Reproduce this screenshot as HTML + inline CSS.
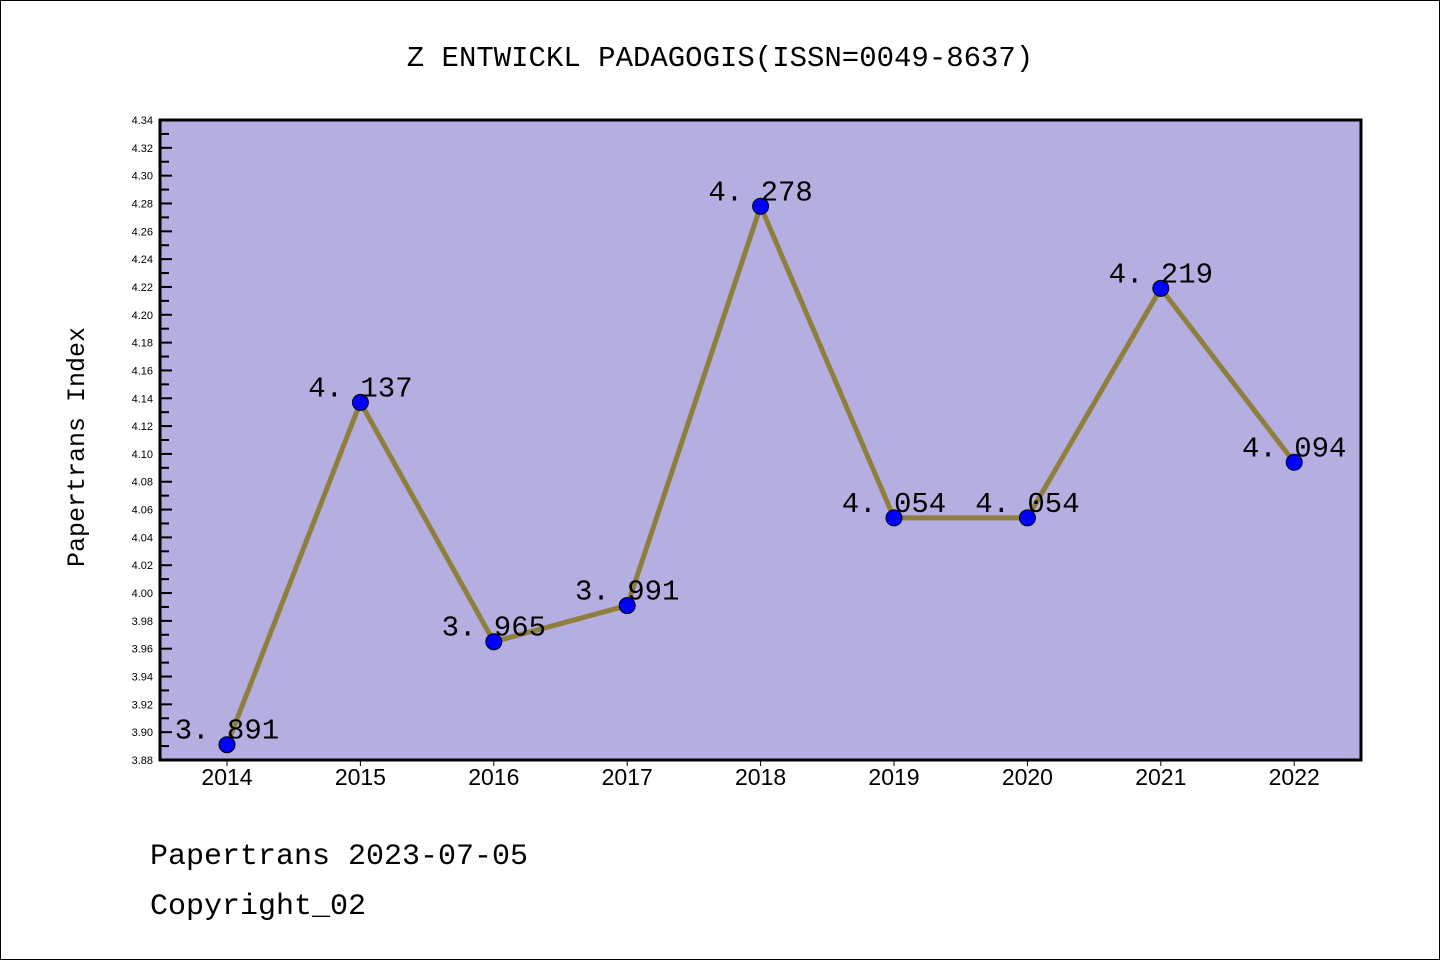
<!DOCTYPE html>
<html><head><meta charset="utf-8"><style>
body{margin:0;background:#fff;}
svg{display:block;font-family:"Liberation Mono","WenQuanYi Zen Hei",monospace;}
</style></head><body>
<svg id="chart" width="1440" height="960" xmlns="http://www.w3.org/2000/svg">
<rect x="0.5" y="0.5" width="1439" height="959" fill="#fff" stroke="#000"/>
<text x="720" y="66" text-anchor="middle" font-size="29">Z ENTWICKL PADAGOGIS(ISSN=0049-8637)</text>
<rect x="160" y="120" width="1201" height="640" fill="#b5aee1"/>
<g id="axes"></g>
<g id="series"></g>
<rect x="160" y="120" width="1201" height="640" fill="none" stroke="#000" stroke-width="3"/>
<text transform="translate(84,447) rotate(-90)" text-anchor="middle" font-size="25">Papertrans Index</text>
<text x="150" y="864" font-size="30">Papertrans 2023-07-05</text>
<text x="150" y="914" font-size="30">Copyright_02</text>
</svg>
<script>
const years=["2014","2015","2016","2017","2018","2019","2020","2021","2022"];
const values=[3.891,4.137,3.965,3.991,4.278,4.054,4.054,4.219,4.094];
const yTicks=["3.88","3.90","3.92","3.94","3.96","3.98","4.00","4.02","4.04","4.06","4.08","4.10","4.12","4.14","4.16","4.18","4.20","4.22","4.24","4.26","4.28","4.30","4.32","4.34"];
const NS="http://www.w3.org/2000/svg";
const yMin=3.88,yMax=4.34,plotTop=120,plotBot=760;
function yS(v){return plotBot-(v-yMin)/(yMax-yMin)*(plotBot-plotTop);}
function xS(i){return 227+i*133.4;}
function mk(t,a,p){const e=document.createElementNS(NS,t);for(const k in a)e.setAttribute(k,a[k]);p.appendChild(e);return e;}
const ax=document.getElementById('axes'),sr=document.getElementById('series');
yTicks.forEach(t=>{const v=parseFloat(t),yy=yS(v);
 const l=mk('line',{x1:160,x2:172,y1:yy,y2:yy,stroke:'#000','stroke-width':2},ax);
 
 
 if(v<yMax-0.001){const m=yS(v+0.01);const ml=mk('line',{x1:160,x2:169,y1:m,y2:m,stroke:'#000','stroke-width':2},ax);
 
 }
 const tx=mk('text',{x:153,y:yy+4,'text-anchor':'end','font-size':11,'font-family':'Liberation Sans, sans-serif'},ax);tx.textContent=t;
 
 
});
years.forEach((yr,i)=>{
 const l=mk('line',{x1:xS(i),x2:xS(i),y1:760,y2:766,stroke:'#000','stroke-width':1},ax);
 
 
 const t=mk('text',{x:xS(i),y:785,'text-anchor':'middle','font-size':23,'font-family':'Liberation Sans, sans-serif'},ax);t.textContent=yr;
 
 
});
const pl=mk('polyline',{points:values.map((v,i)=>xS(i)+','+yS(v)).join(' '),fill:'none',stroke:'#8f7f3c','stroke-width':5,'stroke-linejoin':'round'},sr);


values.forEach((v,i)=>{
 const c=mk('circle',{cx:xS(i),cy:yS(v),r:8,fill:'#0000ff',stroke:'#000','stroke-width':1},sr);
 
 
 const t=mk('text',{x:xS(i),y:yS(v)-6,'text-anchor':'middle','font-size':29},sr);t.textContent=v.toFixed(3).replace('.','. ');
 
 
});
</script>
</body></html>
